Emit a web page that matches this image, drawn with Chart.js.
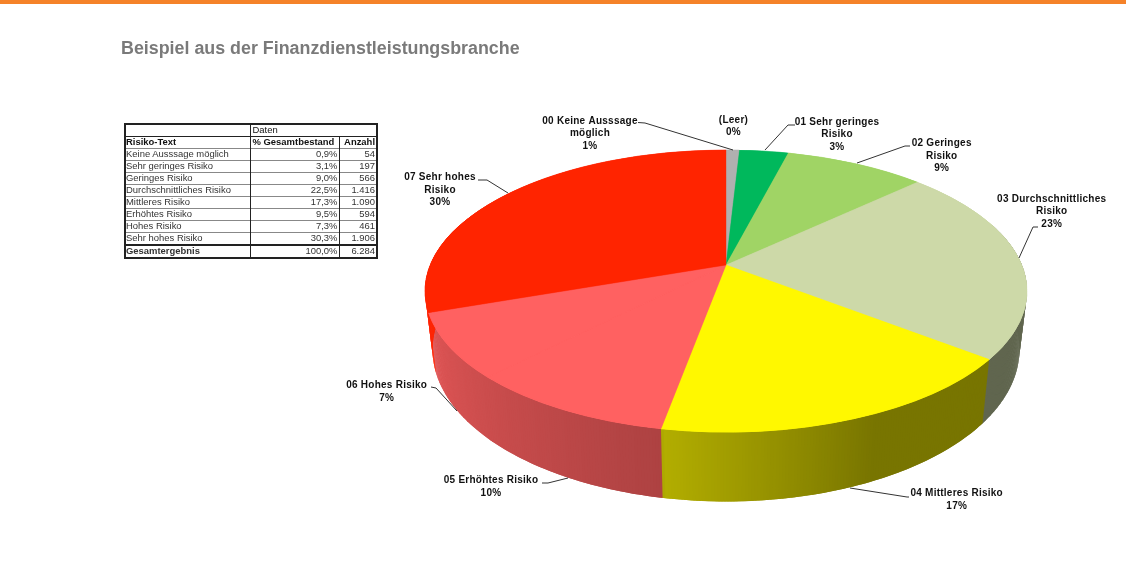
<!DOCTYPE html>
<html lang="de">
<head>
<meta charset="utf-8">
<title>Beispiel aus der Finanzdienstleistungsbranche</title>
<script src="https://cdn.jsdelivr.net/npm/chart.js@4"></script>
<style>
  html, body { margin: 0; padding: 0; background: #fff; }
  #page { position: relative; width: 1126px; height: 563px; overflow: hidden; filter: blur(0.45px); }
  #topbar { position: absolute; left: 0; top: 0; width: 1126px; height: 4px; background: #F58229; }
  canvas { position: absolute; left: 0; top: 0; }
  table {
    position: absolute; left: 124px; top: 123px; width: 252px; height: 133px;
    border-collapse: collapse; table-layout: fixed; border: 2px solid #222;
    font: 9.45px "Liberation Sans", Arial, sans-serif; color: #333;
  }
  td { padding: 0 1px 1px 1px; height: 10px; line-height: 10px; border-top: 1px solid #888; border-left: 1px solid #222; white-space: nowrap; overflow: hidden; }
  td:first-child { padding-left: 0; }
  td.num { text-align: right; }
  td.pad { padding-left: 2px; }
  tr.head td { color: #111; border-top-color: #222; }
  tr.total td { border-top: 2px solid #222; color: #333; }
  .b { font-weight: bold; color: #111; }
</style>
</head>
<body>
<div id="page">
  <div id="topbar"></div>
  <canvas id="riskPie" width="1126" height="563"></canvas>
  <table id="riskTable"></table>
</div>
<script>
const chartTitle = 'Beispiel aus der Finanzdienstleistungsbranche';

// slices, clockwise from 12 o'clock
const categories = ['00 Keine Ausssage möglich', '01 Sehr geringes Risiko', '02 Geringes Risiko',
  '03 Durchschnittliches Risiko', '04 Mittleres Risiko', '05 Erhöhtes Risiko', '06 Hohes Risiko',
  '07 Sehr hohes Risiko', '(Leer)'];
const counts = [54, 197, 566, 1416, 1090, 594, 461, 1906, 0];
const percentLabels = ['1%', '3%', '9%', '23%', '17%', '10%', '7%', '30%', '0%'];
const sliceColors = ['#B0B0B0', '#00B85C', '#A0D465', '#CDD9A8', '#FFF800', '#FF6161', '#FF6161', '#FF2400', '#B0B0B0'];

// table
const tableTexts = ['Keine Ausssage möglich', 'Sehr geringes Risiko', 'Geringes Risiko', 'Durchschnittliches Risiko',
  'Mittleres Risiko', 'Erhöhtes Risiko', 'Hohes Risiko', 'Sehr hohes Risiko'];
const tableShares = ['0,9%', '3,1%', '9,0%', '22,5%', '17,3%', '9,5%', '7,3%', '30,3%'];
const tableCounts = ['54', '197', '566', '1.416', '1.090', '594', '461', '1.906'];

// label wrapping and placement, same order as categories
const labelBreaks = [['00 Keine Ausssage', 'möglich'], ['01 Sehr geringes', 'Risiko'], ['02 Geringes', 'Risiko'],
  ['03 Durchschnittliches', 'Risiko'], ['04 Mittleres Risiko'], ['05 Erhöhtes Risiko'], ['06 Hohes Risiko'],
  ['07 Sehr hohes', 'Risiko'], ['(Leer)']];
const labelSpots = [[590, 121], [837, 122], [941.7, 143.5], [1051.7, 199.2], [956.7, 493.5], [491, 480.5], [386.7, 385.5], [440, 177.5], [733.5, 120]];
const leaderLines = [
  [[638, 122.5], [645, 123], [733, 150]],
  [[795, 125], [788, 125], [765, 150]],
  [[910, 146], [905, 146], [857, 163]],
  [[1038, 227], [1033, 227], [1019, 258]],
  [[909, 497], [907, 497], [850, 488]],
  [[542, 483], [548, 483], [568, 478]],
  [[431, 387], [436, 388], [457, 411]],
  [[478, 180], [487, 180], [508, 193]]
];

// the tilted disc: top face and the smaller bottom face of the cylinder
const topFace = { cx: 726, cy: 265, a: 295.8, b: 136.2 };
const bottomFace = { cx: 726, cy: 321.6, a: 288.4, b: 146.7 };
const tilt = 0.1844;

function project(face, u, v) {
  const d = 1 + tilt * v;
  return [face.cx + face.a * u / d, face.cy - face.b * v / d];
}

function wallShade(deg) {
  if (deg < 155) return 0.47;
  if (deg < 190) return 0.47 + (deg - 155) / 35 * 0.23;
  if (deg < 250.7) return 0.68 + (deg - 190) / 60.7 * 0.2;
  return 1;
}

function darken(hex, f) {
  const n = parseInt(hex.slice(1), 16);
  return `rgb(${Math.round((n >> 16) * f)}, ${Math.round(((n >> 8) & 255) * f)}, ${Math.round((n & 255) * f)})`;
}

function drawWalls(ctx, arcs) {
  const step = Math.PI / 360;
  arcs.forEach((arc, i) => {
    for (let ang = arc.startAngle; ang < arc.endAngle; ang += step) {
      // each strip runs a bit under the next one so no gaps show
      const next = ang + step * 2;
      const u0 = Math.cos(ang), v0 = -Math.sin(ang), u1 = Math.cos(next), v1 = -Math.sin(next);
      if (v0 > 0.3 && v1 > 0.3) continue;
      const pts = [project(topFace, u0, v0), project(topFace, u1, v1), project(bottomFace, u1, v1), project(bottomFace, u0, v0)];
      const deg = (ang + step / 2 + Math.PI / 2) * 180 / Math.PI;
      ctx.fillStyle = darken(sliceColors[i], wallShade(deg));
      ctx.beginPath();
      pts.forEach((p, j) => j ? ctx.lineTo(p[0], p[1]) : ctx.moveTo(p[0], p[1]));
      ctx.closePath();
      ctx.fill();
    }
  });
}

// the library's own arcs, drawn one pixel row at a time under a perspective scale
function drawTopFace(ctx, arcs) {
  const r = arcs[0].outerRadius, ax = arcs[0].x, ay = arcs[0].y;
  for (let py = 148; py < 436; py++) {
    const t = topFace.cy - (py + 0.5);
    const v = t / (topFace.b - tilt * t);
    const d = 1 + tilt * v;
    const sx = topFace.a / d / r;
    const sy = topFace.b / (d * d) / r;
    ctx.save();
    ctx.beginPath();
    ctx.rect(0, py, 1126, 1);
    ctx.clip();
    ctx.setTransform(sx, 0, 0, sy, topFace.cx - sx * ax, py + 0.5 - sy * (ay - v * r));
    // two passes so the hairline between the two same-coloured slices closes
    arcs.forEach(arc => arc.draw(ctx));
    arcs.forEach(arc => arc.draw(ctx));
    ctx.restore();
  }
}

const perspectivePie = {
  id: 'perspectivePie',
  beforeDatasetDraw(chart) {
    const arcs = chart.getDatasetMeta(0).data;
    drawWalls(chart.ctx, arcs);
    drawTopFace(chart.ctx, arcs);
    return false;
  },
  afterDraw(chart) {
    const ctx = chart.ctx;
    ctx.save();
    ctx.strokeStyle = '#333';
    ctx.lineWidth = 1;
    leaderLines.forEach(line => {
      ctx.beginPath();
      line.forEach((p, j) => j ? ctx.lineTo(p[0], p[1]) : ctx.moveTo(p[0], p[1]));
      ctx.stroke();
    });
    ctx.fillStyle = '#111';
    ctx.font = 'bold 10px "Liberation Sans", Arial, sans-serif';
    ctx.letterSpacing = '0.25px';
    ctx.textAlign = 'center';
    ctx.textBaseline = 'middle';
    categories.forEach((c, i) => {
      const lines = labelBreaks[i].concat(percentLabels[i]);
      lines.forEach((txt, n) => ctx.fillText(txt, labelSpots[i][0], labelSpots[i][1] + n * 12.4));
    });
    ctx.restore();
  }
};

new Chart(document.getElementById('riskPie'), {
  type: 'pie',
  data: {
    labels: categories,
    datasets: [{
      data: counts,
      backgroundColor: sliceColors,
      borderColor: sliceColors,
      borderWidth: 0.5
    }]
  },
  options: {
    responsive: false,
    animation: false,
    events: [],
    layout: { padding: { left: 121, top: 38 } },
    plugins: {
      legend: { display: false },
      tooltip: { enabled: false },
      title: {
        display: true,
        text: chartTitle,
        align: 'start',
        color: '#7A7A7A',
        font: { family: '"Liberation Sans", Arial, sans-serif', size: 17.85, weight: 'bold' },
        padding: { top: 0, bottom: 10 }
      }
    }
  },
  plugins: [perspectivePie]
});

// data table next to the chart
const rows = [
  `<tr class="head"><td style="border-top:none"></td><td colspan="2" class="pad" style="border-top:none">Daten</td></tr>`,
  `<tr class="head"><td class="b">Risiko-Text</td><td class="b pad">% Gesamtbestand</td><td class="b num">Anzahl</td></tr>`
];
tableTexts.forEach((txt, i) => {
  rows.push(`<tr><td>${txt}</td><td class="num">${tableShares[i]}</td><td class="num">${tableCounts[i]}</td></tr>`);
});
rows.push(`<tr class="total"><td class="b">Gesamtergebnis</td><td class="num">100,0%</td><td class="num">6.284</td></tr>`);
document.getElementById('riskTable').innerHTML =
  '<colgroup><col style="width:125px"><col style="width:89px"><col style="width:38px"></colgroup>' + rows.join('');
</script>
</body>
</html>
